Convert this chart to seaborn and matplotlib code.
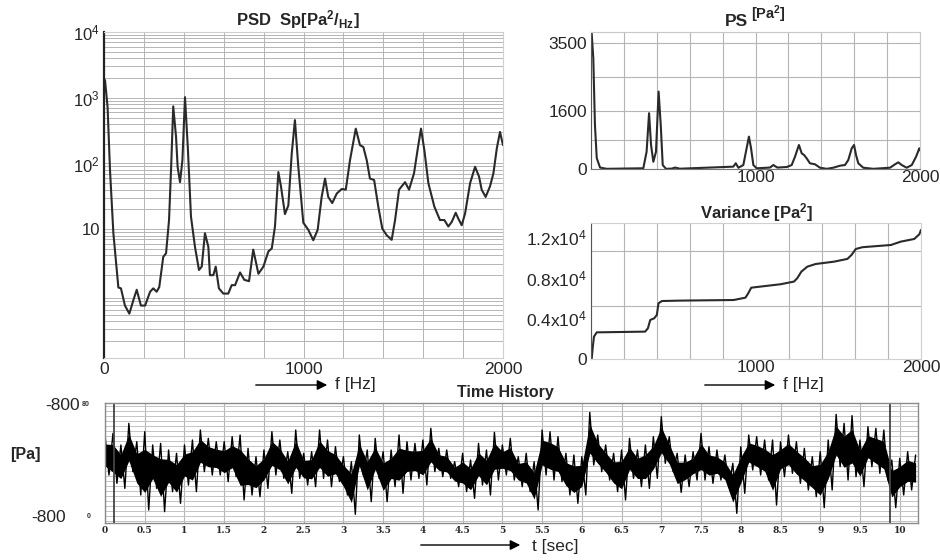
import matplotlib
matplotlib.use("Agg")
import numpy as np
import matplotlib.pyplot as plt
import seaborn as sns
from matplotlib.ticker import FixedLocator, MultipleLocator, LogLocator, NullFormatter

# ---------------- data ----------------
psd_freq = [5, 18, 30, 47, 72, 85, 105, 127, 147, 164, 185, 206, 231, 247, 264, 277, 297, 311,
            326, 336, 347, 361, 369, 381, 393, 406, 420, 436, 456, 476, 490, 506, 523, 531, 548,
            560, 576, 598, 623, 640, 657, 682, 703, 727, 748, 774, 799, 824, 841, 857, 874, 887,
            907, 924, 941, 957, 974, 999, 1024, 1049, 1071, 1091, 1108, 1124, 1144, 1167, 1192,
            1212, 1233, 1262, 1283, 1300, 1317, 1333, 1354, 1375, 1395, 1417, 1442, 1459, 1479,
            1509, 1529, 1554, 1573, 1589, 1606, 1626, 1656, 1684, 1706, 1726, 1743, 1763, 1776,
            1793, 1810, 1835, 1860, 1880, 1893, 1913, 1935, 1952, 1969, 1985, 2000]
psd_value = [1860, 720, 80, 8.7, 1.3, 1.26, 0.69, 0.52, 0.83, 1.2, 0.69, 0.69, 1.12, 1.26, 1.12,
             1.32, 3.8, 4.3, 13.8, 79, 740, 257, 89, 52, 112, 1020, 178, 15.5, 5.4, 2.4, 2.7, 8.7,
             5.4, 2.0, 2.0, 2.7, 1.26, 1.05, 1.05, 1.41, 1.41, 2.2, 1.7, 1.62, 4.9, 2.1, 2.7, 4.6,
             5.1, 11, 74, 45, 17, 23, 141, 457, 89, 12.6, 9.8, 6.8, 9.8, 31, 59, 31, 25, 35, 41,
             40, 112, 339, 190, 178, 112, 59, 56, 22, 10.2, 8.1, 6.9, 13.8, 40, 52, 40, 71, 170,
             339, 158, 50, 22, 13.8, 13.8, 11, 12.9, 17.8, 14.5, 11.5, 17.4, 50, 89, 63, 40, 31,
             45, 71, 170, 302, 190]

ps_freq = [4, 14, 24, 35, 55, 95, 318, 338, 353, 365, 379, 395, 411, 424, 436, 456, 490, 512,
           540, 865, 880, 896, 926, 946, 960, 973, 987, 1007, 1088, 1108, 1133, 1190, 1220, 1240,
           1264, 1281, 1295, 1311, 1331, 1362, 1392, 1433, 1473, 1514, 1544, 1564, 1585, 1599,
           1611, 1625, 1655, 1716, 1818, 1848, 1868, 1889, 1919, 1950, 1976, 1996, 2000]
ps_value = [3770, 3075, 1220, 300, 40, 5, 20, 480, 1550, 667, 200, 480, 2150, 1220, 110, 5, 10,
            40, 8, 65, 160, 35, 110, 575, 900, 575, 110, 20, 40, 110, 40, 55, 110, 340, 667, 435,
            390, 297, 158, 130, 36, 5, 36, 92, 110, 250, 575, 667, 390, 158, 36, 5, 36, 130, 185,
            110, 36, 110, 340, 575, 520]

var_freq = [4, 10, 18, 35, 328, 345, 359, 383, 399, 409, 430, 541, 865, 936, 953, 971, 1007,
            1149, 1230, 1250, 1275, 1311, 1362, 1473, 1554, 1579, 1605, 1645, 1818, 1878, 1959,
            1990, 2000]
var_value = [0, 1050, 2200, 2620, 2690, 3020, 3840, 4000, 4330, 5480, 5700, 5740, 5800, 6030,
             6460, 7010, 7080, 7350, 7610, 7940, 8590, 9080, 9340, 9570, 9840, 10230, 10820,
             10990, 11210, 11540, 11800, 12260, 12690]

time_s = [0.0, 0.1, 0.2, 0.3, 0.4, 0.5, 0.6, 0.7, 0.8, 0.9, 1.0, 1.1, 1.2, 1.3, 1.4, 1.5, 1.6,
          1.7, 1.8, 1.9, 2.0, 2.1, 2.2, 2.3, 2.4, 2.5, 2.6, 2.7, 2.8, 2.9, 3.0, 3.1, 3.2, 3.3, 3.4,
          3.5, 3.6, 3.7, 3.8, 3.9, 4.0, 4.1, 4.2, 4.3, 4.4, 4.5, 4.6, 4.7, 4.8, 4.9, 5.0, 5.1, 5.2,
          5.3, 5.4, 5.5, 5.6, 5.7, 5.8, 5.9, 6.0, 6.1, 6.2, 6.3, 6.4, 6.5, 6.6, 6.7, 6.8, 6.9, 7.0,
          7.1, 7.2, 7.3, 7.4, 7.5, 7.6, 7.7, 7.8, 7.9, 8.0, 8.1, 8.2, 8.3, 8.4, 8.5, 8.6, 8.7, 8.8,
          8.9, 9.0, 9.1, 9.2, 9.3, 9.4, 9.5, 9.6, 9.7, 9.8, 9.9, 10.0, 10.1, 10.2]
press_hi = [372, 395, 229, 538, 276, 419, 229, 252, 157, 110, 229, 300, 443, 324, 276, 276, 348,
            372, 181, 62, 157, 419, 300, 133, 443, 110, 133, 443, 300, 205, 62, -10, 372, 157,
            324, 133, 157, 372, 276, 252, 300, 467, 181, 157, -10, 110, 14, 252, 157, 410, 229,
            324, 62, 110, -10, 443, 419, 348, 110, 86, 62, 695, 372, 229, 110, 157, 324, 157, 229,
            348, 633, 348, 110, 86, 133, 395, 205, 157, 86, -33, 205, 372, 348, 300, 300, 276,
            372, 276, 181, 62, 133, 300, 667, 538, 648, 300, 491, 467, 443, 14, 38, 133, 86]
press_lo = [-200, -319, -391, -152, -486, -700, -391, -724, -438, -605, -343, -438, -152, -200,
            -200, -295, -224, -557, -486, -510, -391, -200, -248, -462, -248, -343, -367, -248,
            -367, -295, -486, -762, -200, -581, -248, -581, -367, -462, -272, -248, -343, -152,
            -224, -248, -367, -438, -534, -343, -486, -272, -200, -272, -367, -438, -700, -200,
            -272, -295, -486, -605, -486, -57, -152, -272, -438, -557, -248, -367, -391, -248,
            -33, -152, -448, -367, -272, -272, -319, -272, -367, -748, -462, -129, -200, -272,
            -629, -224, -176, -319, -414, -510, -667, -414, -81, -272, -224, -367, -81, -176,
            -272, -667, -486, -414, -414]

psd_yticks = [10, 100, 1000, 10000]
psd_ylabels = ["10", "10$^2$", "10$^3$", "10$^4$"]
ps_yticks = [0, 1600, 3500]
var_yticks = [0, 4000, 8000, 12000]
var_ylabels = ["0", "0.4x10$^4$", "0.8x10$^4$", "1.2x10$^4$"]
time_ticks = [0, 0.5, 1, 1.5, 2, 2.5, 3, 3.5, 4, 4.5, 5, 5.5, 6, 6.5, 7, 7.5, 8, 8.5, 9, 9.5, 10]
time_labels = ["0", "0.5", "1", "1.5", "2", "2.5", "3", "3.5", "4", "4.5", "5", "5.5", "6",
               "6.5", "7", "7.5", "8", "8.5", "9", "9.5", "10"]

# ---------------- style ----------------
sns.set_theme(style="white")
plt.rcParams["font.family"] = ["Liberation Sans", "DejaVu Sans"]
plt.rcParams["mathtext.fontset"] = "custom"
plt.rcParams["mathtext.rm"] = "Liberation Sans"
plt.rcParams["mathtext.bf"] = "Liberation Sans:bold"
plt.rcParams["mathtext.it"] = "Liberation Sans:italic"

W, H = 940, 560
fig = plt.figure(figsize=(9.4, 5.6), dpi=100)
fig.patch.set_facecolor("white")


def box(l, t, r, b):
    return [l / W, 1 - b / H, (r - l) / W, (b - t) / H]


def ftext(x, y, s, **kw):
    fig.text(x / W, 1 - y / H, s, **kw)


def arrow(x0, x1, y):
    fig.add_artist(matplotlib.patches.FancyArrowPatch(
        (x0 / W, 1 - y / H), (x1 / W, 1 - y / H), transform=fig.transFigure,
        arrowstyle="-|>,head_length=6,head_width=3", color="black", lw=1.0))


LINE = "#2a2a2a"
GRID = "#b5b5b5"
TICK = 12.5

# ---------------- PSD ----------------
ax1 = fig.add_axes(box(104, 32, 503, 358))
sns.lineplot(x=psd_freq, y=psd_value, ax=ax1, color=LINE, lw=1.5, sort=False, estimator=None)
ax1.set_yscale("log")
ax1.set_xlim(0, 2000)
ax1.set_ylim(0.11, 1e4)
ax1.yaxis.set_major_locator(FixedLocator(psd_yticks))
ax1.set_yticklabels(psd_ylabels, fontsize=12)
ax1.yaxis.set_minor_locator(LogLocator(base=10, subs=range(2, 10), numticks=20))
ax1.yaxis.set_minor_formatter(NullFormatter())
ax1.set_xticks([0, 1000, 2000])
ax1.set_xticklabels(["0", "1000", "2000"], fontsize=TICK)
ax1.xaxis.set_minor_locator(MultipleLocator(200))
ax1.grid(True, which="both", color=GRID, lw=0.7)
ax1.tick_params(length=0, pad=3)
for s in ax1.spines.values():
    s.set_color("#cfcfcf")
    s.set_linewidth(0.8)
ax1.spines["left"].set_color("#222222")
ax1.spines["left"].set_linewidth(1.6)

# ---------------- PS ----------------
ax2 = fig.add_axes(box(591, 32, 920, 169))
sns.lineplot(x=ps_freq, y=ps_value, ax=ax2, color=LINE, lw=1.5, sort=False, estimator=None)
ax2.set_xlim(0, 2000)
ax2.set_ylim(0, 3805)
ax2.set_yticks(ps_yticks)
ax2.set_yticklabels([str(v) for v in ps_yticks], fontsize=TICK)
ax2.yaxis.set_minor_locator(FixedLocator([800, 2550]))
ax2.set_xticks([1000, 2000])
ax2.set_xticklabels(["1000", "2000"], fontsize=TICK)
ax2.xaxis.set_minor_locator(MultipleLocator(200))
ax2.grid(True, which="both", color=GRID, lw=0.8)
ax2.tick_params(length=0, pad=3)
ax2.tick_params(axis="x", pad=1)
for s in ax2.spines.values():
    s.set_color("#c8c8c8")
    s.set_linewidth(0.8)
ax2.spines["left"].set_color("#555555")
ax2.spines["bottom"].set_color("#777777")

# ---------------- Variance ----------------
ax3 = fig.add_axes(box(591, 223, 921, 359))
sns.lineplot(x=var_freq, y=var_value, ax=ax3, color=LINE, lw=1.5, sort=False, estimator=None)
ax3.set_xlim(0, 2000)
ax3.set_ylim(0, 13370)
ax3.set_yticks(var_yticks)
ax3.set_yticklabels(var_ylabels, fontsize=TICK)
ax3.yaxis.set_minor_locator(FixedLocator([5200, 10600]))
ax3.set_xticks([1000, 2000])
ax3.set_xticklabels(["1000", "2000"], fontsize=TICK)
ax3.xaxis.set_minor_locator(MultipleLocator(200))
ax3.grid(False)
ax3.grid(True, which="minor", color=GRID, lw=0.8)
ax3.tick_params(length=0, pad=3)
ax3.tick_params(axis="x", pad=1)
for s in ax3.spines.values():
    s.set_color("#d0d0d0")
    s.set_linewidth(0.8)
ax3.spines["left"].set_color("#555555")

# ---------------- Time history ----------------
ax4 = fig.add_axes(box(105, 403, 918, 523))
t_arr = np.asarray(time_s)
hi_arr = np.asarray(press_hi, dtype=float)
lo_arr = np.asarray(press_lo, dtype=float)
mid = (hi_arr + lo_arr) / 2
half = (hi_arr - lo_arr) / 2
# dense core of the trace
ax4.fill_between(t_arr, mid - 0.55 * half, mid + 0.55 * half, color="black", lw=0)
# peaks and troughs: zig-zag between the upper and lower envelope
zz_t = np.ravel(np.column_stack([t_arr, t_arr + 0.05]))[:-1]
zz_v = np.ravel(np.column_stack([hi_arr, lo_arr]))[:-1]
sns.lineplot(x=zz_t, y=zz_v, ax=ax4, color="black", lw=1.0, sort=False, estimator=None)
ax4.set_xlim(0, 10.23)
ax4.set_ylim(-886, 829)
ax4.set_yticks([])
ax4.yaxis.set_minor_locator(MultipleLocator(72))
ax4.set_xticks(time_ticks)
ax4.set_xticklabels(time_labels, fontsize=6.5, fontweight="bold", family="DejaVu Serif")
ax4.grid(True, which="major", axis="x", color=GRID, lw=0.8)
ax4.grid(True, which="minor", axis="y", color="#c4c4c4", lw=0.7)
ax4.tick_params(length=0, pad=2)
for s in ax4.spines.values():
    s.set_color("#8a8a8a")
    s.set_linewidth(1.0)
for tv in [0.11, 9.88]:
    ax4.axvline(tv, color="#444444", lw=1.3)

# ---------------- texts ----------------
ftext(298, 20, r"PSD  Sp[Pa$^{\mathbf{2}}$/$_{\mathbf{Hz}}$]", fontsize=12, fontweight="bold",
      ha="center", va="center")
ftext(748, 21, "PS", fontsize=12.5, fontweight="bold", ha="right", va="center")
ftext(751, 14, r"[Pa$^{\mathbf{2}}$]", fontsize=10.5, fontweight="bold", ha="left", va="center")
ftext(757, 213, r"Variance [Pa$^{\mathbf{2}}$]", fontsize=12, fontweight="bold",
      ha="center", va="center")
ftext(505, 392, "Time History", fontsize=11.5, fontweight="bold", ha="center", va="center")

arrow(253, 330, 385)
ftext(335, 385, "f [Hz]", fontsize=TICK, ha="left", va="center")
arrow(702, 778, 385)
ftext(783, 385, "f [Hz]", fontsize=TICK, ha="left", va="center")
arrow(418, 523, 545)
ftext(532, 546, "t [sec]", fontsize=TICK, ha="left", va="center")

ftext(80, 406, "-800", fontsize=TICK, ha="right", va="center")
ftext(82, 404, "80", fontsize=5, fontweight="bold", ha="left", va="center", color="#333333")
ftext(66, 517, "-800", fontsize=TICK, ha="right", va="center")
ftext(87, 517, "0", fontsize=5, fontweight="bold", ha="left", va="center", color="#333333")
ftext(10, 455, "[Pa]", fontsize=11.5, fontweight="bold", ha="left", va="center")

fig.savefig("out.png", dpi=100, facecolor="white")
